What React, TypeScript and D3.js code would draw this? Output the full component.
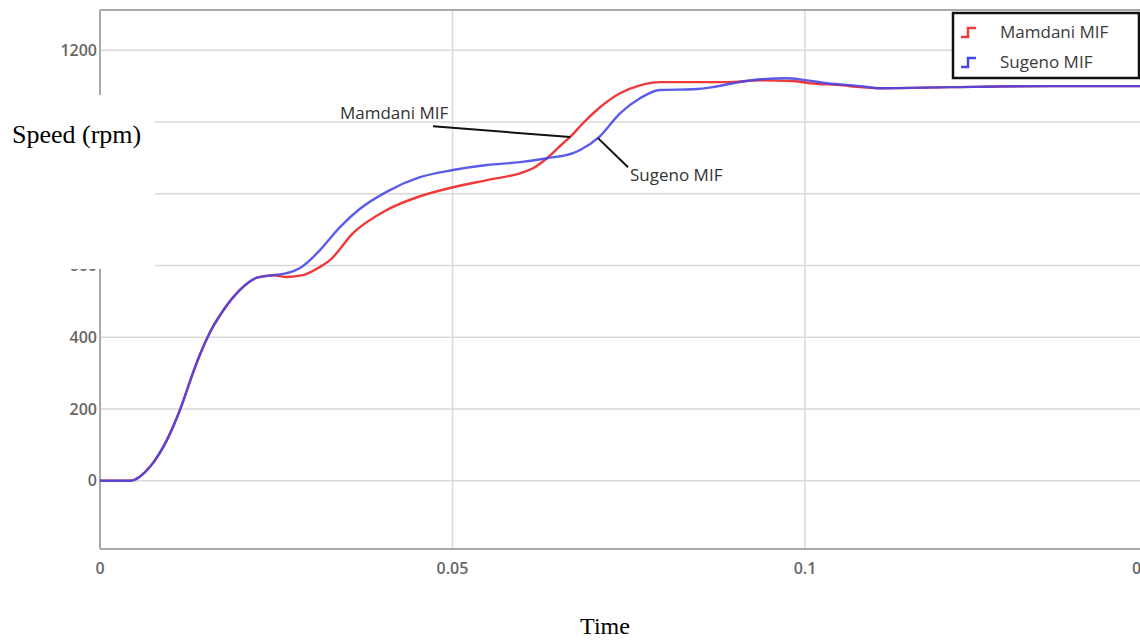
import React from 'react';
import * as d3 from 'd3';

// Motor speed response (rpm) over time (s) for the two fuzzy controllers
const mamdaniTime = [0, 0.0028, 0.00426, 0.00709, 0.0095, 0.01135, 0.01319, 0.01418, 0.0156, 0.01745, 0.01986, 0.02227, 0.02454,
  0.02652, 0.02879, 0.0312, 0.03262, 0.03589, 0.04071, 0.04539, 0.05007, 0.05489, 0.05957, 0.06142, 0.0634, 0.06525, 0.06709,
  0.06809, 0.07092, 0.07376, 0.0766, 0.07943, 0.08411, 0.08894, 0.09362, 0.0983, 0.10071, 0.10539, 0.1078, 0.11064, 0.1206,
  0.1348, 0.1504];
const mamdaniSpeed = [0, 0, 0, 39, 114, 198, 301, 352, 414, 474, 532, 566, 573,
  568, 573, 596, 615, 690, 755, 793, 818, 838, 857, 871, 899, 933, 966,
  988, 1041, 1080, 1102, 1111, 1111, 1111, 1116, 1114, 1108, 1102, 1097, 1094, 1097,
  1100, 1100];

const sugenoTime = [0, 0.0028, 0.00426, 0.00709, 0.0095, 0.01135, 0.01319, 0.01418, 0.0156, 0.01745, 0.01986, 0.02227, 0.02454,
  0.02652, 0.02837, 0.02979, 0.0312, 0.03404, 0.03688, 0.04071, 0.04539, 0.05007, 0.05489, 0.05957, 0.0634, 0.06709, 0.0681,
  0.0709, 0.07376, 0.0766, 0.07943, 0.08411, 0.08695, 0.08979, 0.09362, 0.09745, 0.10028, 0.10312, 0.1078, 0.11064, 0.1206,
  0.1348, 0.1504];
const sugenoSpeed = [0, 0, 0, 39, 114, 198, 301, 352, 414, 474, 532, 566, 573,
  579, 593, 615, 643, 707, 758, 806, 846, 866, 880, 888, 899, 913, 922,
  960, 1024, 1066, 1089, 1091, 1097, 1108, 1119, 1122, 1116, 1108, 1100, 1094, 1097,
  1100, 1100];

const yTicks = [0, 200, 400, 600, 800, 1000, 1200];
const xTicks = [0, 0.05, 0.1, 0.15];
const xTickLabels = ['0', '0.05', '0.1', '0.15'];
const seriesNames = ['Mamdani MIF', 'Sugeno MIF'];
const seriesColors = ['#f03a3a', '#4646e8'];

const W = 1140;
const H = 640;
const plotLeft = 100;
const plotTop = 10;
const plotBottom = 549;

// white label panel laid over the upper part of the y axis
const panel = { x: 0, y: 95, w: 155, h: 174 };

const x = d3.scaleLinear().domain([0, 0.15]).range([plotLeft, 1157.5]);
const y = d3.scaleLinear().domain([-190, 1312]).range([plotBottom, plotTop]);

const line = d3
  .line<[number, number]>()
  .x((d) => x(d[0]))
  .y((d) => y(d[1]))
  .curve(d3.curveMonotoneX);

const zip = (t: number[], v: number[]): [number, number][] => t.map((tt, i) => [tt, v[i]]);

const tickFont = "'Open Sans', 'Noto Sans', sans-serif";

export default function App() {
  const series = [zip(mamdaniTime, mamdaniSpeed), zip(sugenoTime, sugenoSpeed)];
  // labels fully hidden under the panel are not drawn
  const visibleYTicks = yTicks.filter((v) => y(v) + 8 > panel.y + panel.h || y(v) - 8 < panel.y);
  return (
    <svg
      width={W}
      height={H}
      viewBox={`0 0 ${W} ${H}`}
      style={{ position: 'absolute', left: 0, top: 0, display: 'block', background: '#fff' }}
    >
      <defs>
        <clipPath id="plotClip">
          <rect x={plotLeft} y={plotTop} width={W - plotLeft} height={plotBottom - plotTop} />
        </clipPath>
      </defs>
      <rect x={0} y={0} width={W} height={H} fill="#fff" />

      {/* grid */}
      {yTicks.map((v) => (
        <line key={'gy' + v} x1={plotLeft} x2={W} y1={y(v)} y2={y(v)} stroke="#d9d9d9" strokeWidth={1.5} />
      ))}
      {xTicks.slice(1).map((t) => (
        <line key={'gx' + t} x1={x(t)} x2={x(t)} y1={plotTop} y2={plotBottom} stroke="#d9d9d9" strokeWidth={1.5} />
      ))}

      {/* frame */}
      <line x1={plotLeft} x2={W} y1={plotTop} y2={plotTop} stroke="#a9a9a9" strokeWidth={2} />
      <line x1={plotLeft} x2={W} y1={plotBottom} y2={plotBottom} stroke="#a9a9a9" strokeWidth={2} />
      <line x1={plotLeft} x2={plotLeft} y1={plotTop} y2={plotBottom} stroke="#a9a9a9" strokeWidth={2} />

      {/* tick labels */}
      {visibleYTicks.map((v) => (
        <text key={'ty' + v} x={plotLeft - 3} y={y(v)} dy="0.35em" textAnchor="end" fontFamily={tickFont} fontSize={16} fontWeight={600} fill="#666">
          {v}
        </text>
      ))}
      {xTicks.map((t, i) => (
        <text key={'tx' + t} x={Math.min(x(t), 1148)} y={568} dy="0.35em" textAnchor="middle" fontFamily={tickFont} fontSize={16} fontWeight={600} fill="#666">
          {xTickLabels[i]}
        </text>
      ))}

      {/* curves */}
      <g clipPath="url(#plotClip)">
        {series.map((s, i) => (
          <path key={i} d={line(s) || ''} fill="none" stroke={seriesColors[i]} strokeWidth={2.4} strokeOpacity={i === 1 ? 0.88 : 1} />
        ))}
      </g>

      {/* leader annotations */}
      <line x1={x(0.04723)} y1={y(988)} x2={x(0.0667)} y2={y(958)} stroke="#111" strokeWidth={2} />
      <text x={x(0.03404)} y={y(1008)} fontFamily={tickFont} fontSize={17} fill="#333">
        {seriesNames[0]}
      </text>
      <line x1={x(0.07064)} y1={y(955)} x2={x(0.0749)} y2={y(874)} stroke="#111" strokeWidth={2} />
      <text x={x(0.07518)} y={y(835)} fontFamily={tickFont} fontSize={17} fill="#333">
        {seriesNames[1]}
      </text>

      {/* legend */}
      <rect x={953} y={13} width={186} height={65} fill="#fff" stroke="#111" strokeWidth={2.5} />
      {seriesNames.map((name, i) => {
        const cy = 32 + i * 30;
        return (
          <g key={name}>
            <path
              d={`M961,${cy + 5} H968 V${cy - 4} H976`}
              fill="none"
              stroke={seriesColors[i]}
              strokeWidth={2.5}
            />
            <text x={1000} y={cy} dy="0.35em" fontFamily={tickFont} fontSize={17} fill="#3a3a3a">
              {name}
            </text>
          </g>
        );
      })}

      <rect x={panel.x} y={panel.y} width={panel.w} height={panel.h} fill="#fff" />
      <text x={12} y={143} fontFamily="'Liberation Serif', 'Times New Roman', serif" fontSize={26} fill="#000">
        Speed (rpm)
      </text>
      <text x={605} y={634} textAnchor="middle" fontFamily="'Liberation Serif', 'Times New Roman', serif" fontSize={24} fill="#000">
        Time
      </text>
    </svg>
  );
}
